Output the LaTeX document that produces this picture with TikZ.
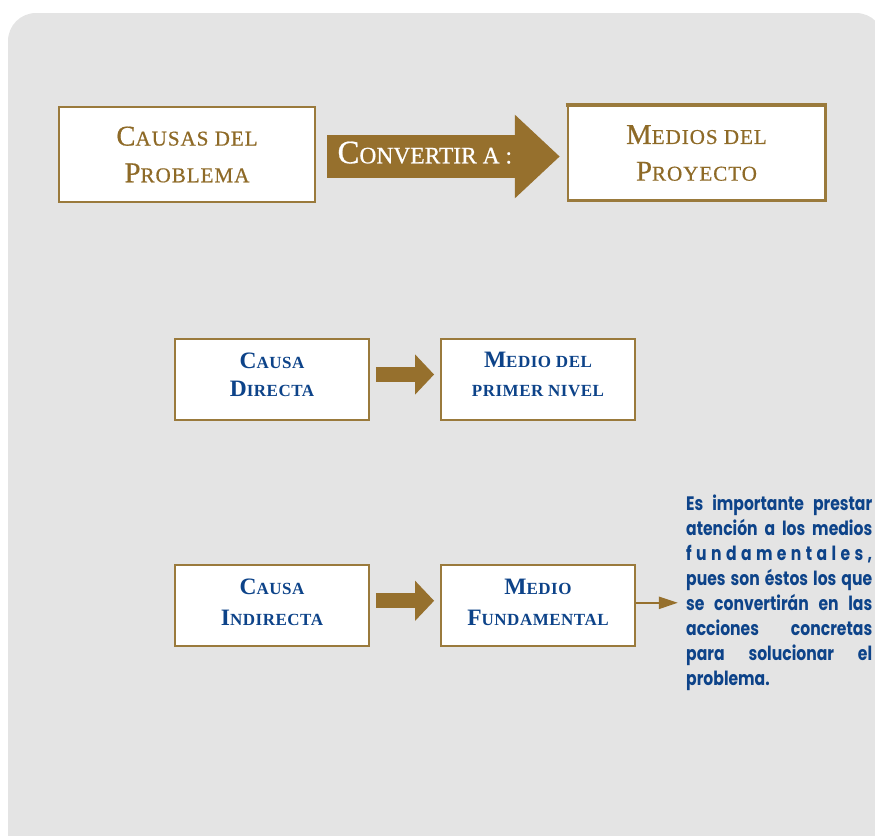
\documentclass[tikz,border=0pt]{standalone}
\usepackage{fontspec}
\setmainfont{Liberation Serif}
\newfontfamily\titlefont[LetterSpace=4.5,FakeBold=0.6]{Liberation Serif}
\newfontfamily\convfont[FakeBold=0.6]{Liberation Serif}
\newfontfamily\bluefont[LetterSpace=3]{Liberation Serif}
\newfontfamily\notefont[FakeStretch=0.8]{Poppins}
\usetikzlibrary{arrows.meta,calc}
\definecolor{panelgray}{HTML}{E4E4E4}
\definecolor{arrowbrown}{HTML}{96702D}
\definecolor{boxbrown}{HTML}{9A7A3C}
\definecolor{titlebrown}{HTML}{8E6A27}
\definecolor{navyblue}{HTML}{0D4389}
\newcommand\Tc[1]{{\fontsize{28.7}{28.7}\selectfont #1}}
\newcommand\Cc[1]{{\fontsize{32.8}{32.8}\selectfont #1}}
\newcommand\Bc[1]{{\fontsize{23.5}{23.5}\selectfont #1}}
\newcommand\jsp{\hspace{0.22em plus 1fil}}
\tikzset{
  titlebox/.style={draw=boxbrown, line width=2.2pt, fill=white, minimum width=256pt,
    minimum height=95pt, inner sep=0pt, align=center, text=titlebrown,
    font=\titlefont\fontsize{21.1}{36.7}\selectfont},
  bluebox/.style={draw=boxbrown, line width=1.8pt, fill=white, minimum width=194pt,
    minimum height=81pt, inner sep=0pt, align=center, text=navyblue,
    font=\bluefont\bfseries\fontsize{17}{28.4}\selectfont, text depth=10pt},
  bluebox2/.style={bluebox, font=\bluefont\bfseries\fontsize{17}{31}\selectfont,
    text depth=7pt},
  bigarrow/.style={draw=arrowbrown, line width=43pt,
    -{Triangle[width=81pt,length=45pt]}},
  midarrow/.style={draw=arrowbrown, line width=15pt,
    -{Triangle[width=39pt,length=19pt]}},
  thinarrow/.style={draw=arrowbrown, line width=2.3pt,
    -{Triangle[width=12pt,length=19pt]}},
  notetext/.style={anchor=north west, inner sep=0pt, text width=186pt, align=left,
    text=navyblue, font=\notefont\bfseries\fontsize{19.5}{24.9}\selectfont}
}
\begin{document}
\begin{tikzpicture}[x=1pt,y=-1pt]
\useasboundingbox (0,0) rectangle (875,835);
% background panel
\fill[panelgray] (8,845) {[rounded corners=28pt] -- (8,13) -- (884,13)} -- (884,845) -- cycle;

% top row
\node[titlebox] (causas) at (187,154.5) {\Tc{C}AUSAS DEL\\\Tc{P}ROBLEMA};
\node[titlebox, line width=2.5pt, minimum width=257pt] (medios) at (696.5,153) {\Tc{M}EDIOS DEL\\\Tc{P}ROYECTO};
\draw[boxbrown, line width=4.3pt] ($(medios.north west)+(-1.2,0.9)$) -- ($(medios.north east)+(1.2,0.9)$);
\draw[boxbrown, line width=3.6pt] ($(medios.north east)+(-0.6,0)$) -- ($(medios.south east)+(-0.6,0)$);

\coordinate (a1) at ($(causas.east)+(11,2)$);
\coordinate (a2) at ($(a1 -| medios.west)+(-7,0)$);
\draw[bigarrow] (a1) -- (a2)
  node[pos=0.42, anchor=base, yshift=-6.8pt, text=white, inner sep=0pt,
       font=\convfont\fontsize{23.5}{23.5}\selectfont] (conv) {\Cc{C}ONVERTIR A :};

% middle row
\node[bluebox] (cd) at (272,379.5) {\Bc{C}AUSA\\\Bc{D}IRECTA};
\node[bluebox] (mp) at (538,379.5) {\Bc{M}EDIO DEL\\PRIMER NIVEL};
\draw[midarrow] ($(cd.east)+(6,-5)$) -- ($(mp.west)+(-6,-5)$);

% bottom row
\node[bluebox2] (ci) at (272,605.8) {\Bc{C}AUSA\\\Bc{I}NDIRECTA};
\node[bluebox2] (mf) at (538,605.8) {\Bc{M}EDIO\\\Bc{F}UNDAMENTAL};
\draw[midarrow] ($(ci.east)+(6,-5)$) -- ($(mf.west)+(-6,-5)$);

\coordinate (noteend) at ($(mf.east)+(42,-3)$);
\draw[thinarrow] ($(mf.east)+(0,-3)$) -- (noteend);

\node[notetext] (note) at (686,495) {%
\makebox[186pt][s]{Es\jsp importante\jsp prestar}\\
\makebox[186pt][s]{atención\jsp a\jsp los\jsp medios}\\
\makebox[186pt][s]{f\hfil u\hfil n\hfil d\hfil a\hfil m\hfil e\hfil n\hfil t\hfil a\hfil l\hfil e\hfil s\hfil ,}\\
\makebox[186pt][s]{pues\jsp son\jsp éstos\jsp los\jsp que}\\
\makebox[186pt][s]{se\jsp convertirán\jsp en\jsp las}\\
\makebox[186pt][s]{acciones\jsp concretas}\\
\makebox[186pt][s]{para\jsp solucionar\jsp el}\\
problema.};
\end{tikzpicture}
\end{document}
